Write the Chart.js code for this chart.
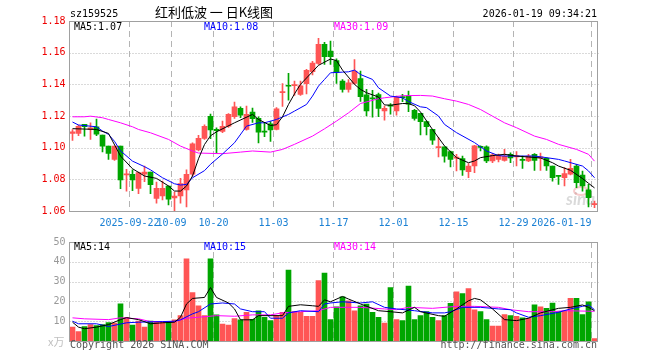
<!DOCTYPE html>
<html>
<head>
<meta charset="utf-8">
<style>
  html, body { margin: 0; padding: 0; background: #fff; }
  #wrap { position: relative; width: 660px; height: 360px; overflow: hidden; }
  canvas { position: absolute; left: 0; }
  #kline { top: 0; }
  #vol { top: 232px; }
</style>
<script src="https://cdn.jsdelivr.net/npm/chart.js@4.4.1/dist/chart.umd.min.js"></script>
</head>
<body>
<div id="wrap">
  <canvas id="kline" width="660" height="232"></canvas>
  <canvas id="vol" width="660" height="128"></canvas>
</div>
<script>
// trading days shown on the chart
const dates = [
  "2025-09-08","2025-09-09","2025-09-10","2025-09-11","2025-09-12","2025-09-15","2025-09-16","2025-09-17","2025-09-18","2025-09-19",
  "2025-09-22","2025-09-23","2025-09-24","2025-09-25","2025-09-26","2025-09-29","2025-09-30",
  "2025-10-09","2025-10-10","2025-10-13","2025-10-14","2025-10-15","2025-10-16","2025-10-17","2025-10-20","2025-10-21",
  "2025-10-22","2025-10-23","2025-10-24","2025-10-27","2025-10-28","2025-10-29","2025-10-30","2025-10-31",
  "2025-11-03","2025-11-04","2025-11-05","2025-11-06","2025-11-07","2025-11-10","2025-11-11","2025-11-12","2025-11-13","2025-11-14",
  "2025-11-17","2025-11-18","2025-11-19","2025-11-20","2025-11-21","2025-11-24","2025-11-25","2025-11-26","2025-11-27","2025-11-28",
  "2025-12-01","2025-12-02","2025-12-03","2025-12-04","2025-12-05","2025-12-08","2025-12-09","2025-12-10","2025-12-11","2025-12-12",
  "2025-12-15","2025-12-16","2025-12-17","2025-12-18","2025-12-19","2025-12-22","2025-12-23","2025-12-24","2025-12-25","2025-12-26",
  "2025-12-29","2025-12-30","2025-12-31",
  "2026-01-05","2026-01-06","2026-01-07","2026-01-08","2026-01-09","2026-01-12","2026-01-13","2026-01-14","2026-01-15","2026-01-16","2026-01-19"
];

const opens = [
  1.1090,1.1090,1.1147,1.1115,1.1132,1.1080,1.1010,1.0926,1.1010,1.0828,
  1.0832,1.0743,1.0832,1.0846,1.0680,1.0695,1.0757,1.0682,1.0695,1.0733,
  1.0832,1.0985,1.1059,1.1198,1.1116,1.1103,1.1136,1.1195,1.1248,1.1115,
  1.1225,1.1185,1.1102,1.1150,1.1116,1.1348,1.1392,1.1392,1.1337,1.1404,
  1.1480,1.1532,1.1652,1.1610,1.1550,1.1420,1.1368,1.1405,1.1436,1.1333,
  1.1315,1.1336,1.1232,1.1268,1.1232,1.1320,1.1326,1.1236,1.1217,1.1164,
  1.1116,1.1000,1.1006,1.0975,1.0933,1.0931,1.0848,1.0884,1.1004,1.1006,
  1.0916,1.0925,1.0920,1.0958,1.0942,1.0922,1.0916,1.0958,1.0936,1.0933,
  1.0884,1.0823,1.0811,1.0832,1.0884,1.0827,1.0733,1.0640
];
const closes = [
  1.1100,1.1135,1.1133,1.1126,1.1086,1.1010,1.0964,1.1010,1.0796,1.0834,
  1.0796,1.0842,1.0846,1.0766,1.0743,1.0743,1.0674,1.0694,1.0773,1.0832,
  1.1025,1.1059,1.1135,1.1112,1.1108,1.1134,1.1210,1.1258,1.1205,1.1210,
  1.1183,1.1098,1.1098,1.1112,1.1246,1.1355,1.1388,1.1396,1.1390,1.1488,
  1.1535,1.1652,1.1574,1.1574,1.1476,1.1368,1.1410,1.1484,1.1322,1.1232,
  1.1308,1.1248,1.1248,1.1262,1.1320,1.1316,1.1274,1.1185,1.1164,1.1133,
  1.1048,1.1004,1.0947,1.0926,1.0941,1.0859,1.0884,1.1011,1.1002,1.0916,
  1.0954,1.0950,1.0945,1.0935,1.0947,1.0920,1.0947,1.0920,1.0938,1.0884,
  1.0811,1.0819,1.0836,1.0869,1.0779,1.0758,1.0684,1.0643
];
const highs = [
  1.1115,1.1142,1.1147,1.1157,1.1180,1.1080,1.1010,1.1010,1.1010,1.0863,
  1.0860,1.0846,1.0884,1.0846,1.0783,1.0789,1.0757,1.0720,1.0806,1.0860,
  1.1030,1.1078,1.1145,1.1212,1.1126,1.1168,1.1215,1.1288,1.1258,1.1262,
  1.1250,1.1195,1.1158,1.1165,1.1253,1.1405,1.1470,1.1420,1.1420,1.1495,
  1.1545,1.1690,1.1665,1.1673,1.1561,1.1430,1.1430,1.1557,1.1484,1.1368,
  1.1362,1.1345,1.1263,1.1278,1.1326,1.1337,1.1358,1.1242,1.1217,1.1168,
  1.1116,1.1063,1.1006,1.0979,1.0958,1.0947,1.0899,1.1015,1.1011,1.1011,
  1.0962,1.0960,1.0990,1.0968,1.0975,1.0947,1.0958,1.0962,1.0966,1.0937,
  1.0884,1.0825,1.0874,1.0926,1.0895,1.0852,1.0768,1.0663
];
const lows = [
  1.1045,1.1075,1.1073,1.1052,1.1075,1.0973,1.0926,1.0920,1.0741,1.0726,
  1.0728,1.0710,1.0786,1.0710,1.0649,1.0670,1.0638,1.0600,1.0649,1.0625,
  1.0820,1.0979,1.1052,1.1057,1.0968,1.1095,1.1128,1.1185,1.1190,1.1110,
  1.1160,1.1030,1.1070,1.1040,1.1112,1.1260,1.1300,1.1330,1.1330,1.1340,
  1.1460,1.1525,1.1525,1.1525,1.1405,1.1350,1.1350,1.1400,1.1292,1.1200,
  1.1192,1.1195,1.1173,1.1211,1.1206,1.1291,1.1227,1.1173,1.1080,1.1080,
  1.1021,1.0941,1.0909,1.0878,1.0853,1.0825,1.0811,1.0842,1.0979,1.0905,
  1.0905,1.0910,1.0915,1.0905,1.0884,1.0869,1.0911,1.0857,1.0857,1.0857,
  1.0789,1.0768,1.0758,1.0828,1.0747,1.0726,1.0625,1.0621
];
// volume, in 万
const volumes = [
  7.0,4.8,7.3,8.3,7.8,8.3,9.3,9.0,18.8,11.8,
  8.0,10.0,7.0,10.0,9.7,9.8,9.7,10.7,12.8,41.5,
  24.5,17.8,12.8,41.5,13.2,8.5,8.0,11.3,10.7,14.5,
  11.0,15.3,12.0,10.3,12.8,14.5,35.8,14.8,14.5,12.5,
  12.5,30.5,34.3,10.8,17.3,22.3,20.3,15.3,17.8,18.7,
  14.5,12.0,9.0,27.0,10.8,10.3,27.8,10.8,12.8,14.8,
  12.0,10.3,12.8,19.0,24.8,24.0,26.5,15.8,14.8,10.8,
  7.5,7.5,13.3,12.8,12.5,11.7,11.5,18.3,17.3,16.5,
  19.2,14.8,15.3,21.5,21.5,13.3,19.8,1.2
];

// moving average lines: [day index, value]
const ma5 = [[0,1.1120],[4,1.1115],[6,1.1090],[8,1.0947],[10,1.0867],[12,1.0821],[14,1.0806],[16,1.0758],[17,1.0726],[18,1.0726],
  [19,1.0758],[20,1.0821],[21,1.0930],[22,1.1020],[23,1.1075],[24,1.1100],[27,1.1157],[30,1.1210],[31,1.1178],[33,1.1140],
  [34,1.1145],[35,1.1195],[36,1.1273],[37,1.1340],[38,1.1400],[40,1.1480],[41,1.1520],[43,1.1560],[44,1.1550],[45,1.1490],
  [47,1.1400],[48,1.1368],[49,1.1347],[51,1.1320],[52,1.1270],[53,1.1268],[55,1.1279],[56,1.1278],[57,1.1265],[58,1.1225],
  [60,1.1115],[62,1.1011],[64,1.0937],[66,1.0905],[67,1.0916],[68,1.0937],[70,1.0950],[72,1.0958],[74,1.0947],[76,1.0941],
  [78,1.0935],[80,1.0905],[81,1.0884],[83,1.0857],[85,1.0805],[86,1.0775],[87,1.0746]];
const ma10 = [[0,1.1162],[1,1.1143],[4,1.1132],[5,1.1105],[6,1.1084],[7,1.1040],[8,1.0980],[10,1.0915],[12,1.0880],[13,1.0860],
  [15,1.0810],[17,1.0772],[18,1.0764],[19,1.0768],[20,1.0810],[22,1.0855],[23,1.0895],[25,1.0960],[27,1.1031],[29,1.1136],
  [31,1.1157],[32,1.1157],[34,1.1178],[36,1.1210],[37,1.1231],[39,1.1273],[40,1.1326],[41,1.1389],[42,1.1431],[43,1.1473],
  [45,1.1477],[46,1.1479],[47,1.1490],[48,1.1462],[50,1.1431],[51,1.1378],[53,1.1326],[55,1.1315],[56,1.1291],[58,1.1258],
  [59,1.1253],[61,1.1200],[62,1.1147],[64,1.1095],[67,1.1032],[69,1.0979],[71,1.0950],[72,1.0947],[77,1.0947],[79,1.0937],
  [81,1.0926],[82,1.0916],[85,1.0884],[86,1.0853],[87,1.0810]];
const ma30 = [[0,1.1195],[2,1.1195],[3,1.1199],[5,1.1189],[6,1.1178],[8,1.1157],[10,1.1132],[11,1.1115],[13,1.1094],[16,1.1052],
  [18,1.1010],[20,1.0979],[21,1.0966],[25,1.0962],[28,1.0972],[30,1.0979],[33,1.0972],[35,1.0989],[37,1.1021],[40,1.1073],
  [42,1.1119],[44,1.1168],[46,1.1220],[48,1.1279],[51,1.1309],[52,1.1315],[55,1.1328],[58,1.1330],[60,1.1326],[62,1.1309],
  [64,1.1294],[66,1.1273],[68,1.1241],[70,1.1199],[72,1.1157],[74,1.1126],[77,1.1073],[79,1.1052],[81,1.1021],[84,1.0989],
  [86,1.0958],[87,1.0915]];
const volMa5 = [[0,9.5],[1,7.0],[2,6.2],[4,7.0],[6,8.3],[8,10.8],[9,11.8],[11,10.8],[13,8.7],[15,9.2],[17,9.5],[18,12.0],
  [19,18.7],[20,21.5],[22,22.0],[23,27.0],[24,22.0],[26,19.2],[27,16.2],[28,10.7],[30,10.7],[31,12.8],[35,12.8],[36,17.5],
  [38,18.3],[40,17.8],[41,17.5],[42,20.8],[43,19.8],[45,22.5],[46,21.2],[48,18.7],[51,15.3],[53,14.8],[55,14.2],[57,17.0],
  [58,14.8],[61,12.8],[62,12.5],[64,16.2],[66,20.3],[67,21.5],[68,20.8],[70,16.2],[72,10.8],[74,10.3],[76,11.5],[78,14.2],
  [81,16.5],[83,17.0],[85,18.2],[86,17.0],[87,15.3]];
const volMa10 = [[0,10.0],[1,8.7],[4,8.7],[6,7.3],[9,9.2],[11,9.5],[15,9.8],[17,10.0],[18,10.7],[20,13.7],[21,14.8],[23,18.7],
  [25,19.2],[27,18.7],[28,16.2],[30,14.8],[32,14.8],[33,11.5],[35,11.5],[36,14.2],[38,15.3],[41,14.8],[42,18.7],[43,19.2],
  [45,19.8],[48,19.2],[50,19.8],[52,17.0],[54,16.2],[57,15.3],[60,14.2],[62,14.2],[63,14.8],[65,17.0],[68,17.0],[71,16.2],
  [73,15.8],[74,14.2],[76,12.0],[78,12.8],[81,14.5],[83,16.2],[85,17.5],[86,18.2],[87,15.8]];
const volMa30 = [[0,11.7],[2,11.2],[6,10.8],[8,11.7],[11,11.2],[13,9.8],[17,9.8],[19,11.5],[21,12.0],[24,12.8],[27,12.5],
  [30,13.2],[33,13.2],[35,14.2],[38,14.8],[41,15.3],[43,17.0],[48,17.0],[52,16.2],[54,15.8],[56,17.0],[60,16.5],[64,17.5],
  [67,17.5],[71,17.0],[73,15.8],[76,14.8],[80,14.8],[82,15.3],[87,15.0]];

// x axis labels
const tickDates = ["2025-09-22","2025-10-09","2025-10-20","2025-11-03","2025-11-17","2025-12-01","2025-12-15","2025-12-29","2026-01-19"];
const tickLabels = ["2025-09-22","10-09","10-20","11-03","11-17","12-01","12-15","12-29","2026-01-19"];
const priceTicks = [1.06, 1.18, 0.02]; // min, max, step
const volTicks = [0, 50, 10];

const RED = "#ff5555", GREEN = "#00a600";
const MONO = '10px "DejaVu Sans Mono", monospace';
const colors = opens.map((o, i) => (closes[i] >= o ? RED : GREEN));
const toXY = arr => arr.map(([i, v]) => ({ x: dates[i], y: v }));

function maLine(arr, color) {
  return {
    type: "line", data: toXY(arr), borderColor: color, borderWidth: 1,
    pointRadius: 0, tension: 0, spanGaps: true, order: 1
  };
}

// dotted horizontal grid, dashed vertical grid at labelled dates, frame
const gridPlugin = {
  id: "grid",
  beforeDatasetsDraw(chart) {
    const { ctx, chartArea: a, scales: { x, y } } = chart;
    ctx.save();
    ctx.lineWidth = 1;
    ctx.strokeStyle = "#b4b4b4";
    ctx.setLineDash([1, 2]);
    y.ticks.forEach(t => {
      const py = Math.round(y.getPixelForValue(t.value)) + 0.5;
      if (py < a.top + 2 || py > a.bottom - 2) return;
      ctx.beginPath(); ctx.moveTo(a.left, py); ctx.lineTo(a.right + 2, py); ctx.stroke();
    });
    ctx.setLineDash([6, 4]);
    tickDates.forEach(d => {
      const px = x.getPixelForValue(dates.indexOf(d)) - 3;
      ctx.beginPath(); ctx.moveTo(px, a.top); ctx.lineTo(px, a.bottom); ctx.stroke();
    });
    ctx.restore();
  },
  afterDraw(chart) {
    const { ctx, chartArea: a } = chart;
    ctx.save();
    ctx.strokeStyle = "#a0a0a0";
    ctx.lineWidth = 1;
    ctx.strokeRect(a.left, Math.floor(a.top) + 0.5, a.right - a.left, Math.round(a.bottom - a.top));
    ctx.restore();
  }
};

// texts around the price chart
const priceText = {
  id: "priceText",
  beforeDatasetsDraw(chart) {
    const { ctx } = chart;
    ctx.save();
    ctx.font = 'italic bold 17px Lato, sans-serif';
    ctx.fillStyle = "rgba(150,150,150,0.35)";
    ctx.fillText("sina", 566, 205);
    ctx.strokeStyle = "rgba(235,110,110,0.35)";
    ctx.lineWidth = 2;
    ctx.beginPath(); ctx.ellipse(581, 191, 7, 4, 0, 0, Math.PI * 2); ctx.stroke();
    ctx.restore();
  },
  afterDraw(chart) {
    const { ctx, scales: { x } } = chart;
    ctx.save();
    ctx.font = MONO;
    ctx.textBaseline = "alphabetic";
    ctx.fillStyle = "#000";
    ctx.fillText("sz159525", 70, 17);
    ctx.textAlign = "right";
    ctx.fillText("2026-01-19 09:34:21", 597, 17);
    ctx.textAlign = "center";
    ctx.font = '13px "Noto Sans CJK SC", sans-serif';
    ctx.fillText("红利低波 一 日K线图", 214, 17);
    ctx.font = MONO;
    ctx.textAlign = "left";
    ctx.fillStyle = "#000"; ctx.fillText("MA5:1.07", 74, 30);
    ctx.fillStyle = "#0000ff"; ctx.fillText("MA10:1.08", 204, 30);
    ctx.fillStyle = "#ff00ff"; ctx.fillText("MA30:1.09", 334, 30);
    ctx.fillStyle = "#1a80d4";
    tickDates.forEach((d, k) => {
      const px = x.getPixelForValue(dates.indexOf(d)) - 3;
      ctx.textAlign = k === tickDates.length - 1 ? "right" : "center";
      ctx.fillText(tickLabels[k], px, 226);
    });
    ctx.restore();
  }
};

const volText = {
  id: "volText",
  afterDraw(chart) {
    const { ctx } = chart;
    ctx.save();
    ctx.font = MONO;
    ctx.fillStyle = "#000"; ctx.fillText("MA5:14", 74, 18);
    ctx.fillStyle = "#0000ff"; ctx.fillText("MA10:15", 204, 18);
    ctx.fillStyle = "#ff00ff"; ctx.fillText("MA30:14", 334, 18);
    ctx.fillStyle = "#555";
    ctx.fillText("Copyright 2026 SINA.COM", 70, 116);
    ctx.textAlign = "right";
    ctx.fillText("http://finance.sina.com.cn", 597, 116);
    ctx.textAlign = "left";
    ctx.fillStyle = "#c0c0c0";
    ctx.font = '11px "Noto Sans CJK SC", sans-serif';
    ctx.fillText("x万", 48, 114);
    ctx.restore();
  }
};

const baseOptions = (ticks, color, fmt, pad) => ({
  responsive: false,
  animation: false,
  events: [],
  layout: { padding: pad },
  plugins: { legend: { display: false }, tooltip: { enabled: false } },
  scales: {
    x: { type: "category", offset: true, display: false },
    y: {
      position: "left", min: ticks[0], max: ticks[1],
      afterFit: s => { s.width = 69.5; },
      grid: { display: false, drawTicks: false },
      border: { display: false },
      ticks: { stepSize: ticks[2], color: color, padding: 4, callback: fmt,
               font: { family: "DejaVu Sans Mono", size: 10 } }
    }
  }
});

new Chart(document.getElementById("kline"), {
  type: "bar",
  data: {
    labels: dates,
    datasets: [
      maLine(ma5, "#000000"),
      maLine(ma10, "#0000ff"),
      maLine(ma30, "#ff00ff"),
      { data: opens.map((o, i) => [o, closes[i]]), backgroundColor: colors,
        barThickness: 5, minBarLength: 1, grouped: false, order: 2 },
      { data: lows.map((l, i) => [l, highs[i]]), backgroundColor: colors,
        barThickness: 1, grouped: false, order: 3 }
    ]
  },
  options: baseOptions(priceTicks, "#ee0000", v => v.toFixed(2), { top: 21, right: 62.5, bottom: 21, left: 0 }),
  plugins: [gridPlugin, priceText]
});

new Chart(document.getElementById("vol"), {
  type: "bar",
  data: {
    labels: dates,
    datasets: [
      maLine(volMa5, "#000000"),
      maLine(volMa10, "#0000ff"),
      maLine(volMa30, "#ff00ff"),
      { data: volumes, backgroundColor: colors, barThickness: 5, grouped: false, order: 2 }
    ]
  },
  options: baseOptions(volTicks, "#999999", v => (v === 0 ? "" : v), { top: 9, right: 62.5, bottom: 19, left: 0 }),
  plugins: [gridPlugin, volText]
});
</script>
</body>
</html>
